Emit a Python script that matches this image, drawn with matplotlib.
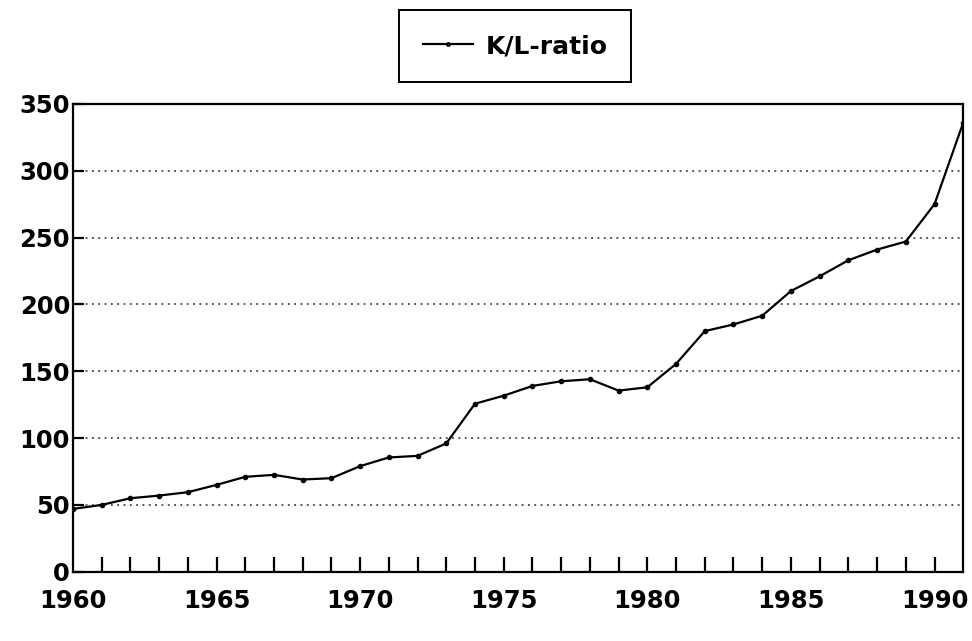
import numpy as np
import matplotlib.pyplot as plt

# K/L ratio
years = list(range(1960, 1992))
kl_ratio = [47, 50, 55, 57, 59.5, 65, 71, 72.5, 69, 70,
            79, 85.5, 86.7, 96, 125.7, 131.7, 139, 142.5, 144, 135.5,
            138, 155.5, 180, 185, 191.5, 210, 221, 233, 241, 247,
            275, 336]
y_ticks = [0, 50, 100, 150, 200, 250, 300, 350]
x_labels = [1960, 1965, 1970, 1975, 1980, 1985, 1990]

plt.rcParams['font.family'] = ['DejaVu Sans']
plt.rcParams['font.weight'] = 'bold'

fig = plt.figure(figsize=(9.72, 6.41), dpi=100)
ax = fig.add_axes([0.075, 0.108, 0.916, 0.730])

line, = ax.plot(years, kl_ratio, color='black', lw=1.6, marker='o', ms=3,
                label='K/L-ratio')

ax.set_xlim(1960, 1991)
ax.set_ylim(0, 350)

# dotted grid, only between the frame edges
for v in y_ticks[1:-1]:
    ax.axhline(v, color='#444444', ls=(0, (1, 2.5)), lw=1.3, zorder=0)

ax.set_yticks(y_ticks)
ax.set_yticklabels([str(v) for v in y_ticks], fontsize=17.5, fontweight='bold')
ax.set_xticks(years[1:-1])
ax.set_xticklabels([])
ax.tick_params(axis='x', direction='in', length=11, width=1.6)
ax.tick_params(axis='y', direction='in', length=8, width=1.6, pad=2)

for yr in x_labels:
    ax.text(yr, -13, str(yr), ha='center', va='top', fontsize=17.5,
            fontweight='bold')

for s in ax.spines.values():
    s.set_linewidth(1.6)

leg = fig.legend(handles=[line], loc='center', bbox_to_anchor=(0.53, 0.928),
                 fancybox=False, edgecolor='black', framealpha=1,
                 prop={'size': 18, 'weight': 'bold'}, handlelength=2.0,
                 borderpad=0.95, handletextpad=0.5, borderaxespad=0)
leg.get_frame().set_linewidth(1.4)
leg.legend_handles[0].set_markersize(2.5)

fig.savefig('out.png', dpi=100)
